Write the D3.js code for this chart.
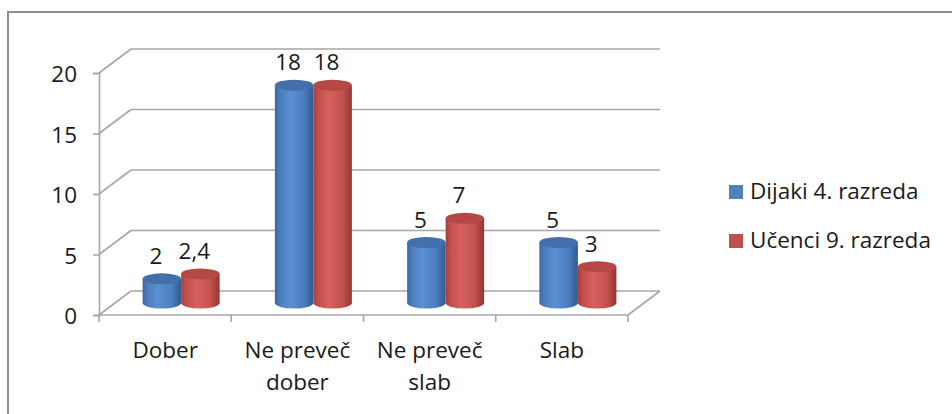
<!DOCTYPE html>
<html>
<head>
<meta charset="utf-8">
<script src="https://cdn.jsdelivr.net/npm/d3@7"></script>
<style>
  html, body { margin: 0; padding: 0; background: #fff; }
  svg { display: block; }
  text { font-family: "Open Sans", sans-serif; fill: #1a1a1a; }
</style>
</head>
<body>
<svg id="chart" width="952" height="414"></svg>
<script>
const categories = ["Dober", "Ne preveč dober", "Ne preveč slab", "Slab"];
const categoryLines = [["Dober"], ["Ne preveč", "dober"], ["Ne preveč", "slab"], ["Slab"]];
const seriesNames = ["Dijaki 4. razreda", "Učenci 9. razreda"];
const dijaki = [2, 18, 5, 5];
const ucenci = [2.4, 18, 7, 3];
const yTicks = [0, 5, 10, 15, 20];

const FS = 22.5;
const svg = d3.select("#chart");

// outer frame
svg.append("rect").attr("x", 8).attr("y", 12).attr("width", 1000).attr("height", 500)
  .attr("fill", "none").attr("stroke", "#8f8f8f").attr("stroke-width", 2);

const x = d3.scaleBand().domain(categories).range([99, 628]).paddingInner(0).paddingOuter(0);
const y = d3.scaleLinear().domain([0, 20]).range([315, 73]);
const depthX = 32, depthY = -24;
const gridColor = "#a6a6a6";

const grid = svg.append("g");
// back wall gridlines + diagonals
yTicks.forEach(v => {
  grid.append("line")
    .attr("x1", x.range()[0] + depthX).attr("x2", x.range()[1] + depthX)
    .attr("y1", y(v) + depthY).attr("y2", y(v) + depthY)
    .attr("stroke", gridColor).attr("stroke-width", 1.6);
  grid.append("line")
    .attr("x1", x.range()[0]).attr("x2", x.range()[0] + depthX)
    .attr("y1", y(v)).attr("y2", y(v) + depthY)
    .attr("stroke", gridColor).attr("stroke-width", 1.6);
});
// floor right diagonal
grid.append("line")
  .attr("x1", x.range()[1]).attr("x2", x.range()[1] + depthX)
  .attr("y1", y(0)).attr("y2", y(0) + depthY)
  .attr("stroke", gridColor).attr("stroke-width", 1.6);

// y axis
const yAxis = svg.append("g").attr("transform", `translate(${x.range()[0]},0)`)
  .call(d3.axisLeft(y).tickValues(yTicks).tickSize(6).tickPadding(16).tickFormat(d3.format("d")));
yAxis.select(".domain").attr("stroke", gridColor).attr("stroke-width", 1.6);
yAxis.selectAll(".tick line").attr("stroke", gridColor).attr("stroke-width", 1.6);
yAxis.selectAll(".tick text").attr("font-size", FS).attr("fill", "#1a1a1a")
  .attr("font-family", "'Open Sans', sans-serif").attr("dy", "0.38em");

// x axis (front floor edge) with ticks at category boundaries
const xAxisG = svg.append("g");
xAxisG.append("line").attr("x1", x.range()[0]).attr("x2", x.range()[1])
  .attr("y1", y(0)).attr("y2", y(0)).attr("stroke", gridColor).attr("stroke-width", 1.6);
const bounds = categories.map(c => x(c)).concat([x.range()[1]]);
xAxisG.selectAll("line.tk").data(bounds).join("line").attr("class", "tk")
  .attr("x1", d => d).attr("x2", d => d).attr("y1", y(0)).attr("y2", y(0) + 7)
  .attr("stroke", gridColor).attr("stroke-width", 1.6);

// category labels
categories.forEach((c, i) => {
  const t = svg.append("text").attr("text-anchor", "middle").attr("font-size", FS)
    .attr("x", x(c) + x.bandwidth() / 2).attr("y", 358);
  categoryLines[i].forEach((ln, j) => {
    t.append("tspan").attr("x", x(c) + x.bandwidth() / 2).attr("dy", j === 0 ? 0 : 32).text(ln);
  });
});

// gradients
const defs = svg.append("defs");
function grad(id, stops) {
  const g = defs.append("linearGradient").attr("id", id).attr("x1", "0%").attr("x2", "100%").attr("y1", "0%").attr("y2", "0%");
  stops.forEach(s => g.append("stop").attr("offset", s[0]).attr("stop-color", s[1]));
}
grad("gBlue", [["0%", "#3b67a2"], ["12%", "#4a7dbd"], ["40%", "#5b90d2"], ["75%", "#4a7ec0"], ["100%", "#33598e"]]);
grad("gRed", [["0%", "#a33f3c"], ["12%", "#c04e4b"], ["40%", "#d6625e"], ["75%", "#c4524e"], ["100%", "#923633"]]);
const topColors = ["#436fab", "#b54845"];
const bodyFills = ["url(#gBlue)", "url(#gRed)"];

const inner = d3.scaleBand().domain([0, 1]).range([-38.5, 38.5]);
const ymid = v => y(v) + depthY / 2;
const ry = 5.5;

const bars = [];
categories.forEach((c, i) => {
  [dijaki[i], ucenci[i]].forEach((v, s) => {
    const cx = x(c) + x.bandwidth() / 2 + depthX / 2 + inner(s) + inner.bandwidth() / 2;
    bars.push({ c, s, v, cx, rx: inner.bandwidth() / 2 });
  });
});

const barG = svg.append("g");
bars.forEach(b => {
  const yt = ymid(b.v), yb = ymid(0);
  const l = b.cx - b.rx, r = b.cx + b.rx;
  const p = `M${l},${yt} L${l},${yb} A${b.rx},${ry} 0 0 0 ${r},${yb} L${r},${yt} Z`;
  barG.append("path").attr("d", p).attr("fill", bodyFills[b.s]);
  barG.append("ellipse").attr("cx", b.cx).attr("cy", yt).attr("rx", b.rx).attr("ry", ry)
    .attr("fill", topColors[b.s]);
});

// data labels
const fmt = v => String(v).replace(".", ",");
bars.forEach(b => {
  svg.append("text").attr("text-anchor", "middle").attr("font-size", FS)
    .attr("x", b.cx - 6).attr("y", ymid(b.v) - 15).text(fmt(b.v));
});

// legend
const legColors = ["#4f81bd", "#c0504d"];
seriesNames.forEach((n, i) => {
  const by = 199 + i * 49;
  svg.append("rect").attr("x", 729).attr("y", by - 14).attr("width", 14).attr("height", 14)
    .attr("fill", legColors[i]);
  svg.append("text").attr("x", 750).attr("y", by).attr("font-size", FS).text(n);
});
</script>
</body>
</html>
